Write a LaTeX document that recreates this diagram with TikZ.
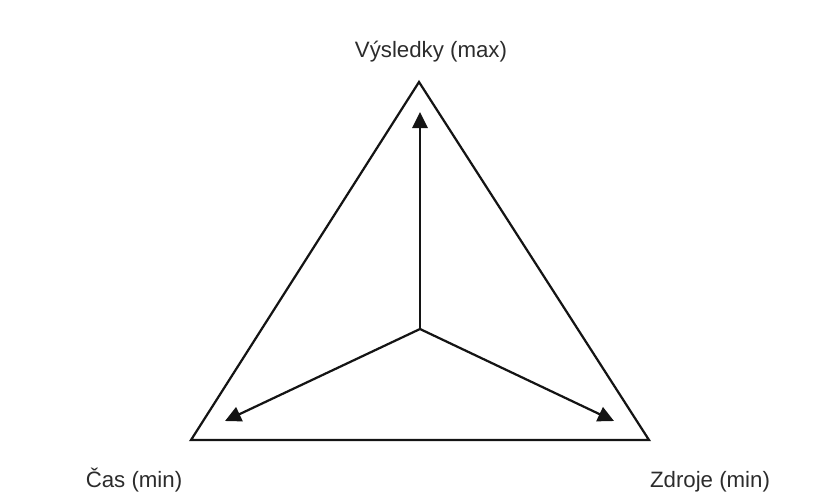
\documentclass[tikz,border=0pt]{standalone}
\usepackage{fontspec}
\setmainfont{Liberation Sans}
\usetikzlibrary{positioning,arrows.meta,calc}
\definecolor{ink}{RGB}{20,20,20}
\tikzset{
  edge/.style={draw=ink, line width=1.9pt, line join=miter},
  axis/.style={-{Triangle[length=4.8mm,width=4.6mm]}, line width=1.9pt, draw=ink},
  lbl/.style={font=\fontsize{19}{23}\selectfont, text=ink!90, anchor=base, inner sep=0pt}
}
\begin{document}
\begin{tikzpicture}[x=0.03cm, y=-0.03cm]
  \useasboundingbox (0,0) rectangle (818,501);
  \coordinate (top) at (419,82);
  \coordinate (left) at (191,440);
  \coordinate (right) at (649,440);
  \coordinate (mid) at (420,329);
  \coordinate (tipT) at (420,112);
  \coordinate (tipL) at (225,421);
  \coordinate (tipR) at (614,421);
  \draw[edge] (top) -- (right) -- (left) -- cycle;
  \draw[axis] (mid) -- (tipT);
  \draw[axis] (mid) -- (tipL);
  \draw[axis] (mid) -- (tipR);
  \node[lbl] (res) at (431,57) {Výsledky (max)};
  \node[lbl] (time) at (134,487) {Čas (min)};
  \node[lbl] (src) at (710,487) {Zdroje (min)};
\end{tikzpicture}
\end{document}
